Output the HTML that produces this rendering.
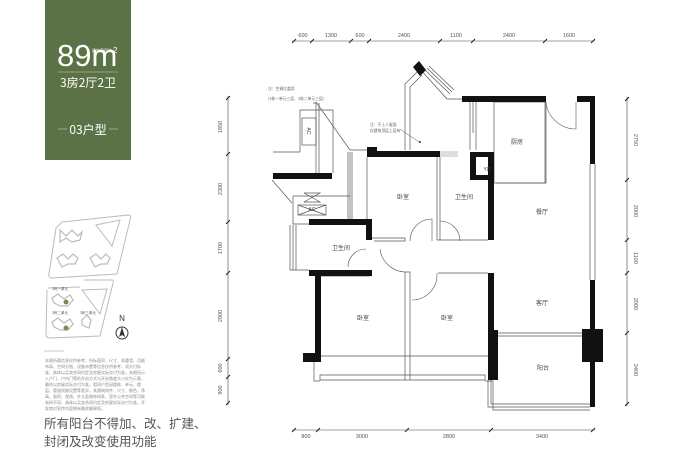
<!DOCTYPE html>
<html><head><meta charset="utf-8"><style>
html,body{margin:0;padding:0;background:#fff;}
svg{display:block;font-family:"Liberation Sans","Noto Sans CJK SC",sans-serif;}
</style></head><body>
<svg width="700" height="471" viewBox="0 0 700 471" xmlns="http://www.w3.org/2000/svg">
<!-- green panel -->
<rect x="45" y="0" width="86" height="160" fill="#5a7245"/>
<text x="57" y="66" font-size="31" fill="#fff" font-family="Liberation Sans,sans-serif">89m</text>
<text x="92" y="52" font-size="4" fill="#fff" font-family="Noto Sans CJK SC,sans-serif">建筑面积约</text>
<text x="113" y="53" font-size="8" fill="#fff">2</text>
<line x1="58" y1="72" x2="118" y2="72" stroke="#c9d2bd" stroke-width="0.6"/>
<text x="88" y="87" font-size="12" fill="#fff" text-anchor="middle" font-family="Noto Sans CJK SC,sans-serif">3房2厅2卫</text>
<line x1="58" y1="129" x2="67" y2="129" stroke="#c9d2bd" stroke-width="0.6"/>
<line x1="109" y1="129" x2="118" y2="129" stroke="#c9d2bd" stroke-width="0.6"/>
<text x="88" y="134" font-size="12" fill="#fff" text-anchor="middle" font-family="Noto Sans CJK SC,sans-serif">03户型</text>

<!-- site plan -->
<g fill="none" stroke="#bbb" stroke-width="1">
<path d="M62 222 L128 215 Q132 215 130 220 L117 274 L52 278 Q48 278 49 274 L56 228 Z"/>
<path d="M48 288 L80 287 M84 280 L112 280 Q114 280 113 283 L100 336 L50 338 Q46 338 46 334 L47 290"/>
<path d="M96 225 L120 220 L112 246 Z"/>
<path d="M82 290 L107 289 L100 314 Z"/>
</g>
<g fill="none" stroke="#bbb" stroke-width="1.2">
<path d="M60 230 l6 6 l6 -6 l6 6 l4 -4 l-2 8 l-8 2 l-6 -4 l-6 4 z"/>
<path d="M57 258 l6 -4 l5 5 l5 -5 l5 4 l-3 6 l-7 0 l-6 3 z"/>
<path d="M90 258 l6 -4 l5 5 l5 -5 l4 4 l-3 6 l-6 0 l-6 3 z"/>
<path d="M52 298 l6 -4 l6 5 l6 -4 l3 5 l-5 6 l-8 0 l-6 -3 z"/>
<path d="M52 322 l6 -4 l6 5 l6 -4 l3 5 l-5 6 l-8 0 l-6 -3 z"/>
<path d="M82 320 l5 -5 l4 5 l-2 8 l-7 -3 z"/>
</g>
<circle cx="66" cy="302" r="2.5" fill="#7a8a5a"/><circle cx="66" cy="328" r="2.5" fill="#7a8a5a"/>
<g font-size="3.5" fill="#555" font-family="Noto Sans CJK SC,sans-serif">
<text x="52" y="290">3栋一单元</text><text x="52" y="314">3栋二单元</text><text x="80" y="314">3栋三单元</text></g>
<text x="122" y="321" font-size="8" fill="#333" text-anchor="middle">N</text>
<circle cx="122" cy="333" r="6" fill="none" stroke="#333" stroke-width="1"/>
<path d="M122 327 L125 337 L122 335 L119 337 Z" fill="#333"/>
<line x1="44" y1="351" x2="64" y2="351" stroke="#999" stroke-width="0.6"/>
<g font-size="4" fill="#888" font-family="Noto Sans CJK SC,sans-serif">
<text x="45" y="362">本图所载信息仅供参考，所标面积、尺寸、承重墙、功能</text>
<text x="45" y="368">布局、空间分割、设备布置等信息仅供参考，须交付标</text>
<text x="45" y="374">准、具体以买卖合同约定及房屋实际交付为准。本图所示</text>
<text x="45" y="380">入户门、户内门等的开启方式与开启角度大小仅为示意，</text>
<text x="45" y="386">最终以房屋实际交付为准。相同户型因楼栋、单元、楼</text>
<text x="45" y="392">层、管道线路设置等差异，其建筑构件、尺寸、颜色、净</text>
<text x="45" y="398">高、面积、视线、外立面装饰线条、室外公共空间等可能</text>
<text x="45" y="404">有所不同，具体以买卖合同约定及房屋实际交付为准。开</text>
<text x="45" y="410">发商对宣传内容拥有最终解释权。</text>
</g>
<g font-size="12.5" fill="#555" font-family="Noto Sans CJK SC,sans-serif">
<text x="44" y="428">所有阳台不得加、改、扩建、</text>
<text x="44" y="446">封闭及改变使用功能</text></g>

<!-- dimensions -->
<g stroke="#444" stroke-width="0.6" fill="none">
<line x1="292" y1="41" x2="595" y2="41"/>
<line x1="292" y1="430" x2="595" y2="430"/>
<line x1="228" y1="96" x2="228" y2="405"/>
<line x1="627" y1="97" x2="627" y2="406"/>
</g>
<g stroke="#222" stroke-width="1">
<path d="M292 43l4 -4M310 43l4 -4M349 43l4 -4M367 43l4 -4M438 43l4 -4M471 43l4 -4M543 43l4 -4M591 43l4 -4"/>
<path d="M292 432l4 -4M316 432l4 -4M405 432l4 -4M489 432l4 -4M591 432l4 -4"/>
<path d="M226 100l4 -4M226 156l4 -4M226 224l4 -4M226 275l4 -4M226 361l4 -4M226 379l4 -4M226 405l4 -4"/>
<path d="M625 101l4 -4M625 182l4 -4M625 242l4 -4M625 275l4 -4M625 335l4 -4M625 406l4 -4"/>
</g>
<g font-size="5.5" fill="#555" text-anchor="middle">
<text x="303" y="37">600</text><text x="331" y="37">1300</text><text x="360" y="37">600</text><text x="404" y="37">2400</text><text x="456" y="37">1100</text><text x="509" y="37">2400</text><text x="569" y="37">1600</text>
<text x="306" y="438">800</text><text x="362" y="438">3000</text><text x="449" y="438">2800</text><text x="542" y="438">3400</text>
</g>
<g font-size="5.5" fill="#555" text-anchor="middle">
<text transform="translate(222,127) rotate(-90)">1850</text>
<text transform="translate(222,189) rotate(-90)">2300</text>
<text transform="translate(222,248) rotate(-90)">1700</text>
<text transform="translate(222,316) rotate(-90)">2900</text>
<text transform="translate(222,368) rotate(-90)">600</text>
<text transform="translate(222,390) rotate(-90)">900</text>
<text transform="translate(634,140) rotate(90)">2750</text>
<text transform="translate(634,211) rotate(90)">2000</text>
<text transform="translate(634,258) rotate(90)">1100</text>
<text transform="translate(634,304) rotate(90)">2000</text>
<text transform="translate(634,370) rotate(90)">2400</text>
</g>

<!-- thin walls -->
<g fill="none" stroke="#555" stroke-width="0.7">
<path d="M405 150 L405 84 L420 69 L447 99 L462 99"/>
<path d="M410 150 L410 87 L422 75"/>
<path d="M425 70 L450 94 M427 68 L452 92 M429 66 L454 90"/>
<path d="M273 152 L300 152 L300 110 L333 110 L333 173"/>
<path d="M313 103 L316 103 L316 173 M319 103 L319 173"/>
<path d="M316 102 L350 150 L367 150"/>
<path d="M350 152 L350 224 M348 152 L348 224 M352 152 L352 224"/>
<path d="M293 196 L350 196"/>
<path d="M293 196 L293 224 L309 224"/>
<path d="M290 225 L290 270 L309 270 M293 225 L293 270 M296 225 L296 270"/>
<path d="M272 180 L292 203"/>
<path d="M367 157 L367 219 M440 157 L440 240 M437 157 L437 240"/>
<path d="M470 102 L470 150 M473 102 L473 133 M476 102 L476 150"/>
<rect x="494" y="102" width="51" height="81"/>
<path d="M496 183 L546 183 L546 102"/>
<path d="M590 164 L590 280 M595 164 L595 280"/>
<path d="M372 238 L405 238 L405 241 L374 241"/>
<path d="M437 240 L488 240"/>
<path d="M321 276 L370 276 M405 272 L410 272 L410 380 M405 272 L405 380"/>
<path d="M438 273 L488 273"/>
<path d="M321 356 L488 356"/>
<path d="M320 375 L485 375 L485 380 L320 380 Z"/>
<path d="M314 362 L314 381 L320 381"/>
<path d="M493 333 L582 333 M493 336 L582 336"/>
<path d="M485 381 L493 381 L493 410 L590 410 M488 380 L488 407 L590 407 M491 380 L491 404 L590 404"/>
<path d="M304 193 L320 193 L304 202 M304 202 L320 202 L304 193"/>
<rect x="298" y="205" width="28" height="10"/>
<path d="M298 205 L326 215 M298 215 L326 205"/>
<rect x="302" y="118" width="14" height="27"/>
</g>
<!-- doors -->
<g fill="none" stroke="#555" stroke-width="0.6">
<path d="M546 102 A30 30 0 0 0 576 129 L576 102"/>
<path d="M410 241 A22 22 0 0 1 432 219 L432 241"/>
<path d="M440 221 A20 20 0 0 1 460 241"/>
<path d="M348 267 A18 18 0 0 1 366 249"/>
<path d="M380 249 A26 26 0 0 0 405 272"/>
<path d="M412 300 A25 25 0 0 0 437 275 L437 273"/>
</g>
<!-- black walls -->
<g fill="#111">
<rect x="462" y="96" width="84" height="6"/>
<rect x="577" y="96" width="18" height="6"/>
<rect x="590" y="96" width="5" height="68"/>
<polygon points="413,67 419,61 426,70 420,76"/>
<rect x="367" y="151" width="73" height="6"/>
<rect x="367" y="147" width="10" height="10"/>
<rect x="470" y="152" width="24" height="5"/>
<rect x="470" y="152" width="6" height="28"/>
<rect x="470" y="175" width="24" height="5"/>
<rect x="488" y="152" width="6" height="88"/>
<rect x="273" y="173" width="59" height="6"/>
<rect x="309" y="219" width="63" height="6"/>
<rect x="366" y="219" width="6" height="21"/>
<rect x="309" y="270" width="63" height="6"/>
<rect x="315" y="276" width="6" height="86"/>
<rect x="303" y="353" width="18" height="9"/>
<rect x="488" y="273" width="6" height="107"/>
<rect x="488" y="330" width="10" height="50"/>
<rect x="488" y="230" width="6" height="10"/>
<rect x="590" y="280" width="5" height="127"/>
<rect x="582" y="329" width="21" height="33"/>
</g>
<rect x="440" y="151" width="18" height="6" fill="#ddd"/>
<!-- labels -->
<g font-size="6" fill="#444" text-anchor="middle" font-family="Noto Sans CJK SC,sans-serif">
<text x="403" y="199">卧室</text><text x="464" y="199">卫生间</text><text x="517" y="144">厨房</text>
<text x="542" y="214">餐厅</text><text x="341" y="250">卫生间</text><text x="363" y="320">卧室</text>
<text x="447" y="320">卧室</text><text x="542" y="305">客厅</text><text x="543" y="370">阳台</text>
</g>
<text x="487" y="171" font-size="5" fill="#444" text-anchor="middle">YD</text>
<text x="312" y="211" font-size="5" fill="#444" text-anchor="middle">AC</text>
<text transform="translate(307,131) rotate(90)" font-size="5" fill="#444" text-anchor="middle">AC</text>
<g font-size="3.8" fill="#666" font-family="Noto Sans CJK SC,sans-serif">
<text x="268" y="90">注：空调位盖用</text><text x="268" y="100">(3栋一单元三层、3栋二单元三层)</text>
<text x="370" y="126">注：不上人屋面</text><text x="370" y="132">仅建筑顶层上层有</text>
</g>
<path d="M400 129 L419 142" stroke="#555" stroke-width="0.5"/>
<circle cx="420" cy="142" r="1" fill="#333"/>
</svg>
</body></html>
